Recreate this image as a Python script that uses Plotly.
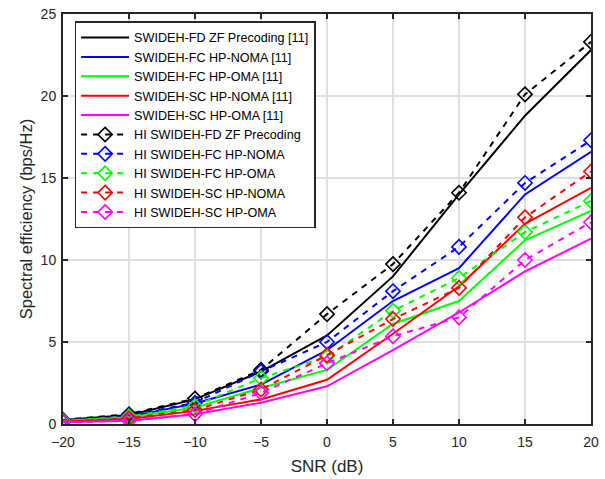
import plotly.graph_objects as go

snr_db = [-20, -15, -10, -5, 0, 5, 10, 15, 20]

# Reference schemes [11]
fd_zf = [0.25, 0.55, 1.5, 3.2, 5.4, 9.0, 14.0, 18.8, 22.8]
fc_noma = [0.2, 0.45, 1.25, 2.4, 4.5, 7.5, 9.5, 14.0, 16.6]
fc_oma = [0.2, 0.4, 1.0, 2.2, 3.3, 6.1, 7.5, 11.2, 13.0]
sc_noma = [0.15, 0.3, 0.8, 1.5, 2.7, 5.5, 8.4, 12.2, 14.4]
sc_oma = [0.1, 0.2, 0.6, 1.3, 2.3, 4.5, 6.8, 9.3, 11.3]

# Hardware-impairment (HI) schemes
hi_fd_zf = [0.25, 0.6, 1.55, 3.3, 6.7, 9.75, 14.1, 20.1, 23.3]
hi_fc_noma = [0.2, 0.5, 1.3, 3.2, 5.0, 8.1, 10.8, 14.7, 17.3]
hi_fc_oma = [0.2, 0.45, 1.1, 2.8, 4.1, 6.9, 8.9, 11.7, 13.6]
hi_sc_noma = [0.15, 0.35, 0.85, 2.1, 4.2, 6.4, 8.3, 12.6, 15.4]
hi_sc_oma = [0.1, 0.2, 0.6, 1.9, 3.7, 5.35, 6.5, 10.0, 12.3]

solid_series = [
    ("SWIDEH-FD ZF Precoding [11]", fd_zf, "#000000"),
    ("SWIDEH-FC HP-NOMA [11]", fc_noma, "#0000FF"),
    ("SWIDEH-FC HP-OMA [11]", fc_oma, "#00FF00"),
    ("SWIDEH-SC HP-NOMA [11]", sc_noma, "#FF0000"),
    ("SWIDEH-SC HP-OMA [11]", sc_oma, "#FF00FF"),
]
dashed_series = [
    ("HI SWIDEH-FD ZF Precoding", hi_fd_zf, "#000000"),
    ("HI SWIDEH-FC HP-NOMA", hi_fc_noma, "#0000FF"),
    ("HI SWIDEH-FC HP-OMA", hi_fc_oma, "#00FF00"),
    ("HI SWIDEH-SC HP-NOMA", hi_sc_noma, "#FF0000"),
    ("HI SWIDEH-SC HP-OMA", hi_sc_oma, "#FF00FF"),
]

fig = go.Figure()
for name, ys, col in solid_series:
    fig.add_trace(go.Scatter(
        x=snr_db, y=ys, name=name, mode="lines",
        line=dict(color=col, width=2),
    ))
for name, ys, col in dashed_series:
    fig.add_trace(go.Scatter(
        x=snr_db, y=ys, name=name, mode="lines+markers",
        line=dict(color=col, width=2, dash="6px,6px"),
        marker=dict(symbol="diamond-open", size=11, color=col,
                    line=dict(color=col, width=1.6)),
    ))

base_font = "Liberation Sans, Arial, sans-serif"

fig.update_layout(
    width=605, height=479,
    margin=dict(l=63, r=14, t=14, b=55),
    paper_bgcolor="white", plot_bgcolor="white",
    font=dict(family=base_font, size=14, color="#262626"),
    showlegend=True,
    legend=dict(
        x=0.022, y=0.982, xanchor="left", yanchor="top",
        bgcolor="white", bordercolor="#262626", borderwidth=1.5,
        font=dict(family=base_font, size=12.6, color="#000000"),
        itemwidth=48, tracegroupgap=0,
    ),
    xaxis=dict(
        range=[-20, 20], tickmode="array", tickvals=snr_db,
        title=dict(text="SNR (dB)", font=dict(size=17, color="#262626"), standoff=11),
        automargin=False,
        showgrid=True, gridcolor="#DFDFDF", gridwidth=1.5,
        showline=True, linecolor="#262626", linewidth=2, mirror="ticks",
        ticks="inside", ticklen=5, tickwidth=2, tickcolor="#262626",
        ticklabelstandoff=4,
        zeroline=False,
    ),
    yaxis=dict(
        range=[0, 25], tickmode="array", tickvals=[0, 5, 10, 15, 20, 25],
        title=dict(text="Spectral efficiency (bps/Hz)", font=dict(size=16.5, color="#262626"), standoff=4),
        automargin=False,
        showgrid=True, gridcolor="#DFDFDF", gridwidth=1.5,
        showline=True, linecolor="#262626", linewidth=2, mirror="ticks",
        ticks="inside", ticklen=5, tickwidth=2, tickcolor="#262626",
        ticklabelstandoff=2,
        zeroline=False,
    ),
)

fig.write_html("out.html")
